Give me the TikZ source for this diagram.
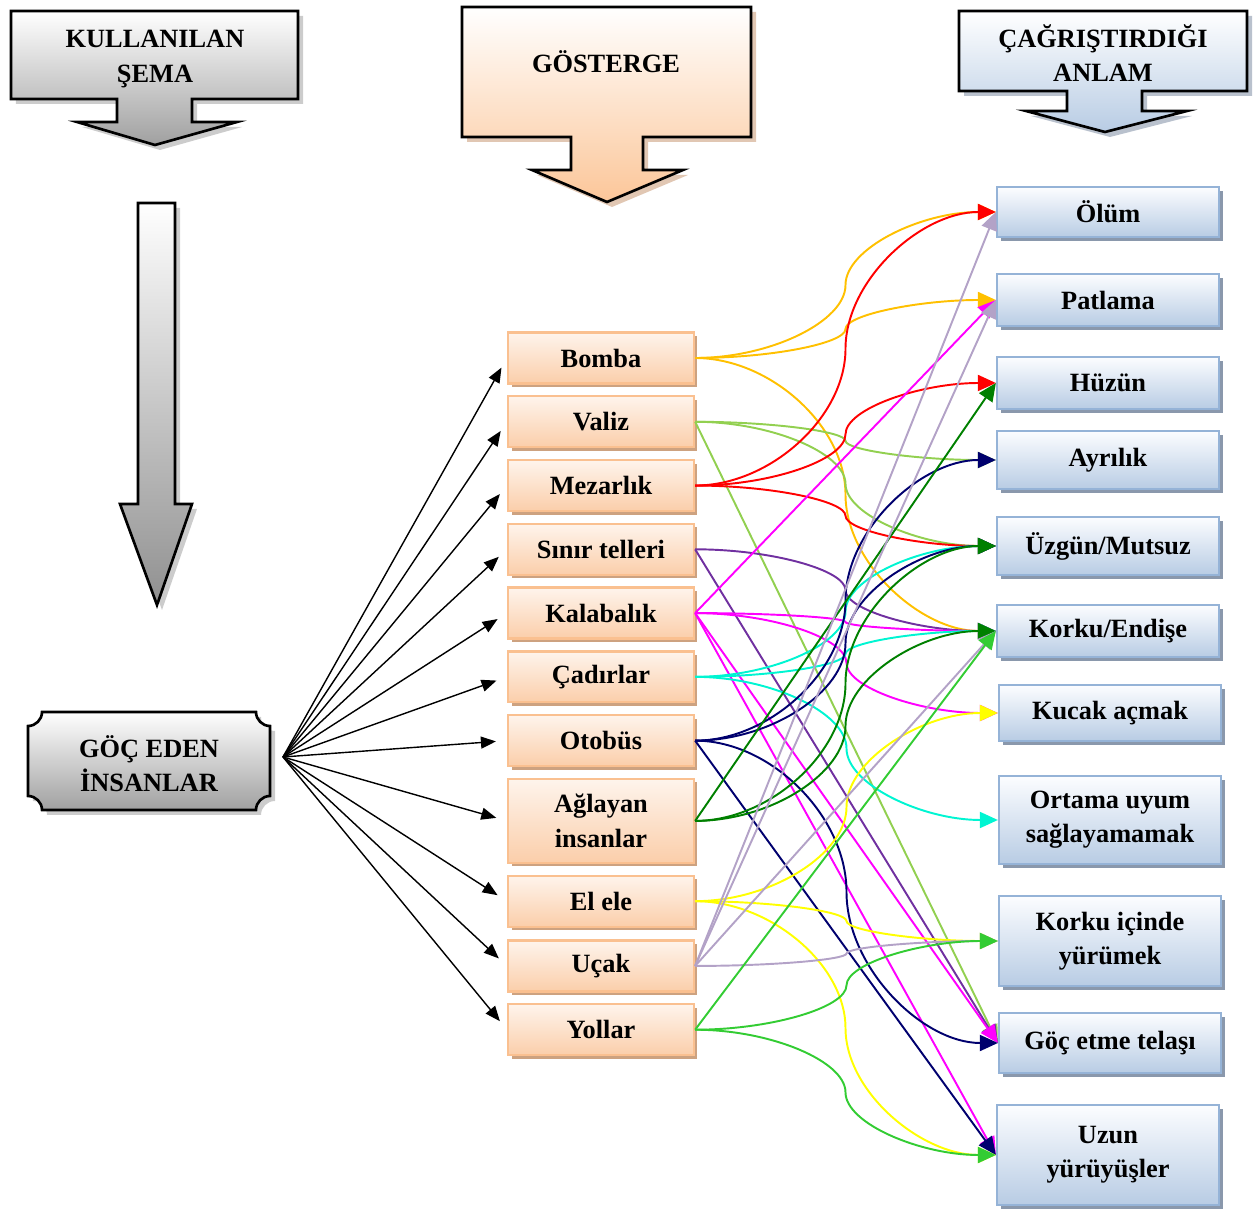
\documentclass[tikz,border=0pt]{standalone}
\usepackage{fontspec}
\setmainfont{Liberation Serif}
\usetikzlibrary{positioning,arrows.meta,shadows,calc}

\definecolor{cOrange}{RGB}{255,192,0}
\definecolor{cRed}{RGB}{255,0,0}
\definecolor{cLav}{RGB}{179,162,199}
\definecolor{cMag}{RGB}{255,0,255}
\definecolor{cLgreen}{RGB}{146,208,80}
\definecolor{cNavy}{RGB}{0,0,110}
\definecolor{cDgreen}{RGB}{0,128,0}
\definecolor{cPurple}{RGB}{112,48,160}
\definecolor{cCyan}{RGB}{0,245,210}
\definecolor{cYellow}{RGB}{255,255,0}
\definecolor{cLime}{RGB}{51,204,51}
\definecolor{peachTop}{RGB}{254,244,236}
\definecolor{peachBot}{RGB}{251,206,170}
\definecolor{peachLine}{RGB}{250,192,144}
\definecolor{peachShadow}{RGB}{205,162,128}
\definecolor{blueTop}{RGB}{252,253,255}
\definecolor{blueBot}{RGB}{184,204,228}
\definecolor{blueLine}{RGB}{149,179,215}
\definecolor{blueShadow}{RGB}{138,152,172}
\definecolor{greyBot}{RGB}{160,160,160}
\definecolor{greyShadow}{RGB}{170,170,170}

\begin{document}
\begin{tikzpicture}[x=0.02cm, y=-0.02cm,
	txt/.style={font=\fontsize{15}{19.5}\selectfont\bfseries, align=center},
	sign/.style={txt, rectangle, draw=peachLine, line width=1.3pt,
	top color=peachTop, bottom color=peachBot,
	drop shadow={shadow xshift=0.07cm, shadow yshift=-0.07cm, fill=peachShadow, opacity=1},
	minimum width=3.72cm, minimum height=1.02cm},
	mean/.style={txt, rectangle, draw=blueLine, line width=1.3pt,
	top color=blueTop, bottom color=blueBot,
	drop shadow={shadow xshift=0.08cm, shadow yshift=-0.08cm, fill=blueShadow, opacity=1},
	minimum width=4.44cm, minimum height=1.04cm},
	callout/.style={draw, line width=1.5pt, top color=white,
	drop shadow={shadow xshift=0.1cm, shadow yshift=-0.1cm, fill=#1, opacity=.6}},
	fanarrow/.style={line width=0.8pt, shorten >=0.22cm, -{Triangle[length=0.3cm,width=0.24cm]}},
	link/.style={line width=1.1pt, -{Triangle[length=0.36cm,width=0.32cm]}},
	wcurve/.style={to path={let \p1=(\tikztostart), \p2=(\tikztotarget) in
		.. controls ({(3*\x1+\x2)/4},\y1) and ({(\x1+\x2)/2},{(3*\y1+\y2)/4}) .. ({(\x1+\x2)/2},{(\y1+\y2)/2})
		.. controls ({(\x1+\x2)/2},{(\y1+3*\y2)/4}) and ({(\x1+3*\x2)/4},\y2) .. (\tikztotarget)}}
	]
	\useasboundingbox (0,0) rectangle (1259,1209);

	% headers
	\path[callout=greyShadow, bottom color=greyBot] (11,11) -- (298,11) -- (298,99) -- (192,99) -- (192,122)
		-- (237,122) -- (155,145) -- (77,122) -- (117,122) -- (117,99) -- (11,99) -- cycle;
	\node[txt] (hschema) at (155,59) {KULLANILAN\\ŞEMA};
	\path[callout=peachShadow, bottom color=peachBot!90!orange] (462,7) -- (751,7) -- (751,137) -- (643,137) -- (643,170)
		-- (683,170) -- (607,202) -- (532,170) -- (571,170) -- (571,137) -- (462,137) -- cycle;
	\node[txt] (hsign) at (606,62) {GÖSTERGE};
	\path[callout=blueShadow, bottom color=blueBot] (959,11) -- (1247,11) -- (1247,91) -- (1142,91) -- (1142,111)
		-- (1187,111) -- (1105,132) -- (1026,111) -- (1067,111) -- (1067,91) -- (959,91) -- cycle;
	\node[txt] (hmean) at (1103,53) {ÇAĞRIŞTIRDIĞI\\ANLAM};

	% big arrow and migrants
	\path[callout=greyShadow, bottom color=greyBot!90!black] (138,203) -- (175,203) -- (175,504) -- (192,504)
		-- (157,605) -- (120,504) -- (138,504) -- cycle;
	\path[callout=greyShadow, bottom color=greyBot] (42,712) -- (256,712) .. controls (256,719.7) and (262.3,726) .. (270,726)
		-- (270,796) .. controls (262.3,796) and (256,802.3) .. (256,810) -- (42,810)
		.. controls (42,802.3) and (35.7,796) .. (28,796) -- (28,726)
		.. controls (35.7,726) and (42,719.7) .. (42,712) -- cycle;
	\node[txt] (goc) at (149,764) {GÖÇ EDEN\\İNSANLAR};
	\coordinate (fan) at (283,757);

	% signs
	\node[sign] (bomba) at (601,358) {Bomba};
	\node[sign, below=0.21cm of bomba] (valiz) {Valiz};
	\node[sign, below=0.21cm of valiz] (mezarlik) {Mezarlık};
	\node[sign, below=0.21cm of mezarlik] (sinir) {Sınır telleri};
	\node[sign, below=0.21cm of sinir] (kalabalik) {Kalabalık};
	\node[sign, below=0.21cm of kalabalik] (cadir) {Çadırlar};
	\node[sign, below=0.21cm of cadir] (otobus) {Otobüs};
	\node[sign, below=0.21cm of otobus, minimum height=1.68cm] (aglayan) {Ağlayan\\insanlar};
	\node[sign, below=0.21cm of aglayan] (elele) {El ele};
	\node[sign, below=0.23cm of elele] (ucak) {Uçak};
	\node[sign, below=0.21cm of ucak] (yollar) {Yollar};

	% meanings
	\node[mean, minimum height=1.0cm] (olum) at (1108,212) {Ölüm};
	\node[mean] (patlama) at (1108,300) {Patlama};
	\node[mean] (huzun) at (1108,383) {Hüzün};
	\node[mean, minimum height=1.16cm] (ayrilik) at (1108,460) {Ayrılık};
	\node[mean, minimum height=1.16cm] (uzgun) at (1108,546) {Üzgün/Mutsuz};
	\node[mean] (korku) at (1108,631) {Korku/Endişe};
	\node[mean, minimum height=1.12cm] (kucak) at (1110,713) {Kucak açmak};
	\node[mean, minimum height=1.76cm] (ortama) at (1110,820) {Ortama uyum\\sağlayamamak};
	\node[mean, minimum height=1.8cm] (korkuic) at (1110,941) {Korku içinde\\yürümek};
	\node[mean, minimum height=1.2cm] (gocet) at (1110,1043) {Göç etme telaşı};
	\node[mean, minimum height=2.0cm] (uzun) at (1108,1155) {Uzun\\yürüyüşler};

	\foreach \m in {bomba,valiz,mezarlik,sinir,kalabalik,cadir,otobus,aglayan,elele,ucak,yollar}
		\draw[fanarrow] (fan) -- (\m.west);

	% links
	\draw[link, cOrange] (bomba.east) to[wcurve] (olum.west);
	\draw[link, cOrange] (bomba.east) to[wcurve] (patlama.west);
	\draw[link, cOrange] (bomba.east) to[wcurve] (korku.west);
	\draw[link, cLgreen] (valiz.east) to[wcurve] (ayrilik.west);
	\draw[link, cLgreen] (valiz.east) to[wcurve] (uzgun.west);
	\draw[link, cLgreen] (valiz.east) -- (gocet.west);
	\draw[link, cRed] (mezarlik.east) to[wcurve] (olum.west);
	\draw[link, cRed] (mezarlik.east) to[wcurve] (huzun.west);
	\draw[link, cRed] (mezarlik.east) to[wcurve] (uzgun.west);
	\draw[link, cPurple] (sinir.east) to[wcurve] (korku.west);
	\draw[link, cPurple] (sinir.east) -- (gocet.west);
	\draw[link, cMag] (kalabalik.east) -- (patlama.west);
	\draw[link, cMag] (kalabalik.east) to[wcurve] (korku.west);
	\draw[link, cMag] (kalabalik.east) to[wcurve] (kucak.west);
	\draw[link, cMag] (kalabalik.east) -- (gocet.west);
	\draw[link, cMag] (kalabalik.east) -- (uzun.west);
	\draw[link, cCyan] (cadir.east) to[wcurve] (uzgun.west);
	\draw[link, cCyan] (cadir.east) to[wcurve] (korku.west);
	\draw[link, cCyan] (cadir.east) to[wcurve] (ortama.west);
	\draw[link, cNavy] (otobus.east) to[wcurve] (ayrilik.west);
	\draw[link, cNavy] (otobus.east) to[wcurve] (uzgun.west);
	\draw[link, cNavy] (otobus.east) to[wcurve] (gocet.west);
	\draw[link, cNavy] (otobus.east) -- (uzun.west);
	\draw[link, cDgreen] (aglayan.east) -- (huzun.west);
	\draw[link, cDgreen] (aglayan.east) to[wcurve] (uzgun.west);
	\draw[link, cDgreen] (aglayan.east) to[wcurve] (korku.west);
	\draw[link, cYellow] (elele.east) to[wcurve] (kucak.west);
	\draw[link, cYellow] (elele.east) to[wcurve] (korkuic.west);
	\draw[link, cYellow] (elele.east) to[wcurve] (uzun.west);
	\draw[link, cLav] (ucak.east) -- (olum.west);
	\draw[link, cLav] (ucak.east) -- (patlama.west);
	\draw[link, cLav] (ucak.east) -- (korku.west);
	\draw[link, cLav] (ucak.east) to[wcurve] (korkuic.west);
	\draw[link, cLime] (yollar.east) -- (korku.west);
	\draw[link, cLime] (yollar.east) to[wcurve] (korkuic.west);
	\draw[link, cLime] (yollar.east) to[wcurve] (uzun.west);
\end{tikzpicture}
\end{document}
